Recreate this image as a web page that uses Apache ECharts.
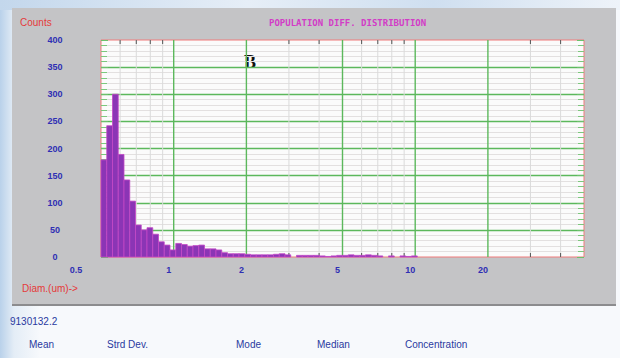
<!DOCTYPE html>
<html>
<head>
<meta charset="utf-8">
<script src="https://cdn.jsdelivr.net/npm/echarts@6/dist/echarts.min.js"></script>
<style>
  body { margin: 0; width: 620px; height: 358px; overflow: hidden; background: #f7f9fc; }
  #sky { position: absolute; left: 0; top: 0; width: 620px; height: 358px;
         background: linear-gradient(90deg, #b9d1ea 0px, #e4edf6 14px, #f7f9fc 40px, #f7f9fc 100%); }
  #skytop { position: absolute; left: 0; top: 0; width: 620px; height: 10px;
            background: linear-gradient(90deg, #c3d7ec, #e6eef7 40%, #cfdff0 70%, #eef3f9); }
  #panel { position: absolute; left: 12px; top: 8px; width: 604px; height: 296px;
           background: #c4c4c6; border-bottom: 2px solid #8c8c8e; }
  #chart { position: absolute; left: 0; top: 0; width: 620px; height: 358px; }
</style>
</head>
<body>
<div id="sky"></div>
<div id="skytop"></div>
<div id="panel"></div>
<div id="chart"></div>
<script>
// counts per channel, channels log-spaced from 0.5 um
const firstDiam = 0.5;
const binsPerDecade = 42;
const counts = [179, 242, 300, 189, 142, 103, 59, 50, 54, 42, 28, 22, 13, 25, 23, 20, 21, 22, 15, 15,
                13, 8, 6, 6, 6, 5, 4, 4, 4, 4, 5, 6, 4, 0, 3, 3, 3, 3, 2, 1,
                2, 3, 3, 4, 3, 3, 4, 3, 2, 0, 2, 0, 2, 1, 2];
const xTickLabels = [0.5, 1, 2, 5, 10, 20];
const xMajorLines = [1, 2, 5, 10, 20];
const xMinorLines = [0.6, 0.7, 0.8, 0.9, 3, 4, 6, 7, 8, 9, 30, 40];
const statHeads = ['Mean', 'Strd Dev.', 'Mode', 'Median', 'Concentration'];

const bins = counts.map((c, i) => [
    firstDiam * Math.pow(10, i / binsPerDecade),
    firstDiam * Math.pow(10, (i + 1) / binsPerDecade),
    c
]);

const narrow = 'Liberation Sans Narrow, Liberation Sans, Arial, sans-serif';
const blue = '#2f2fb4';
const red = '#e53a3a';
const green = '#5cb85c';

const chart = echarts.init(document.getElementById('chart'), null, { renderer: 'svg' });

const vLines = xMajorLines.map(v => [v, 1]).concat(xMinorLines.map(v => [v, 0]));

chart.setOption({
    animation: false,
    title: {
        text: 'POPULATION DIFF. DISTRIBUTION',
        left: 264, top: 13,
        textStyle: { fontFamily: 'DejaVu Sans Mono', fontSize: 9, fontWeight: 'bold', color: '#d23cc6' }
    },
    grid: {
        left: 101, top: 40, width: 483, height: 217,
        show: true, backgroundColor: '#fbfbfb',
        borderColor: '#f07a7a', borderWidth: 1
    },
    xAxis: {
        type: 'log', logBase: 10, min: 0.5, max: 50,
        axisLine: { show: false }, axisTick: { show: false },
        axisLabel: { show: false }, splitLine: { show: false }
    },
    yAxis: [{
        type: 'value', min: 0, max: 400, interval: 50,
        axisLine: { show: false },
        axisTick: { show: true, inside: true, length: 7, lineStyle: { color: '#6cc06c' } },
        minorTick: { show: true, splitNumber: 5, length: 6, lineStyle: { color: '#7cc87c' } },
        axisLabel: { color: blue, fontSize: 9, fontWeight: 'bold', fontFamily: narrow, align: 'center', margin: 46 },
        splitLine: { show: true, showMinLine: false, showMaxLine: false, lineStyle: { color: green, width: 1.3 } },
        minorSplitLine: { show: true, lineStyle: { color: '#e3e0e0', width: 1 } }
    }, {
        type: 'value', min: 0, max: 400, interval: 50, position: 'right',
        axisLine: { show: false },
        axisTick: { show: true, inside: true, length: 7, lineStyle: { color: '#6cc06c' } },
        minorTick: { show: true, splitNumber: 5, length: 6, lineStyle: { color: '#7cc87c' } },
        axisLabel: { show: false }, splitLine: { show: false }
    }],
    graphic: [
        { type: 'text', left: 20, top: 17, style: { text: 'Counts', fill: red, font: '10px ' + narrow } },
        { type: 'text', left: 22, top: 283, style: { text: 'Diam.(um)->', fill: red, font: '10px ' + narrow } },
        { type: 'text', left: 244, top: 53, style: { text: 'B', fill: '#111', font: 'bold 18px Liberation Serif' } },
        { type: 'text', left: 10, top: 316, style: { text: '9130132.2', fill: '#2a3aa0', font: '10px ' + narrow } },
        { type: 'text', left: 29, top: 339, style: { text: statHeads[0], fill: '#2a3aa0', font: '10px ' + narrow } },
        { type: 'text', left: 107, top: 339, style: { text: statHeads[1], fill: '#2a3aa0', font: '10px ' + narrow } },
        { type: 'text', left: 236, top: 339, style: { text: statHeads[2], fill: '#2a3aa0', font: '10px ' + narrow } },
        { type: 'text', left: 317, top: 339, style: { text: statHeads[3], fill: '#2a3aa0', font: '10px ' + narrow } },
        { type: 'text', left: 405, top: 339, style: { text: statHeads[4], fill: '#2a3aa0', font: '10px ' + narrow } }
    ],
    series: [{
        // vertical grid lines and small edge ticks
        type: 'custom', z: 1, silent: true, clip: false,
        data: vLines,
        renderItem: (params, api) => {
            const major = api.value(1) === 1;
            const b = api.coord([api.value(0), 0]);
            const t = api.coord([api.value(0), 400]);
            const kids = [{
                type: 'line',
                shape: { x1: b[0], y1: b[1], x2: t[0], y2: t[1] },
                style: { stroke: major ? green : '#dadada', lineWidth: major ? 1.4 : 1 }
            }];
            if (!major) {
                kids.push({ type: 'line', shape: { x1: t[0], y1: t[1], x2: t[0], y2: t[1] + 4 }, style: { stroke: '#555', lineWidth: 1 } });
                kids.push({ type: 'line', shape: { x1: b[0], y1: b[1], x2: b[0], y2: b[1] - 4 }, style: { stroke: '#555', lineWidth: 1 } });
            }
            return { type: 'group', children: kids };
        }
    }, {
        // histogram bars
        type: 'custom', z: 2,
        data: bins.filter(d => d[2] > 0),
        encode: { x: [0, 1], y: 2 },
        renderItem: (params, api) => {
            const lo = api.coord([api.value(0), 0]);
            const hi = api.coord([api.value(1), api.value(2)]);
            return {
                type: 'rect',
                shape: { x: lo[0], y: hi[1], width: hi[0] - lo[0], height: lo[1] - hi[1] },
                style: { fill: '#8b35b5', stroke: '#c448c6', lineWidth: 0.8 }
            };
        }
    }, {
        // x tick labels
        type: 'custom', z: 3, silent: true, clip: false,
        data: xTickLabels.map(v => [v]),
        renderItem: (params, api) => {
            const v = api.value(0);
            const p = api.coord([v, 0]);
            return {
                type: 'text',
                x: p[0] + (v < 1 ? -25 : -5), y: p[1] + 13,
                style: { text: String(v), fill: blue, font: 'bold 9px ' + narrow, align: 'center', verticalAlign: 'middle' }
            };
        }
    }]
});
</script>
</body>
</html>
